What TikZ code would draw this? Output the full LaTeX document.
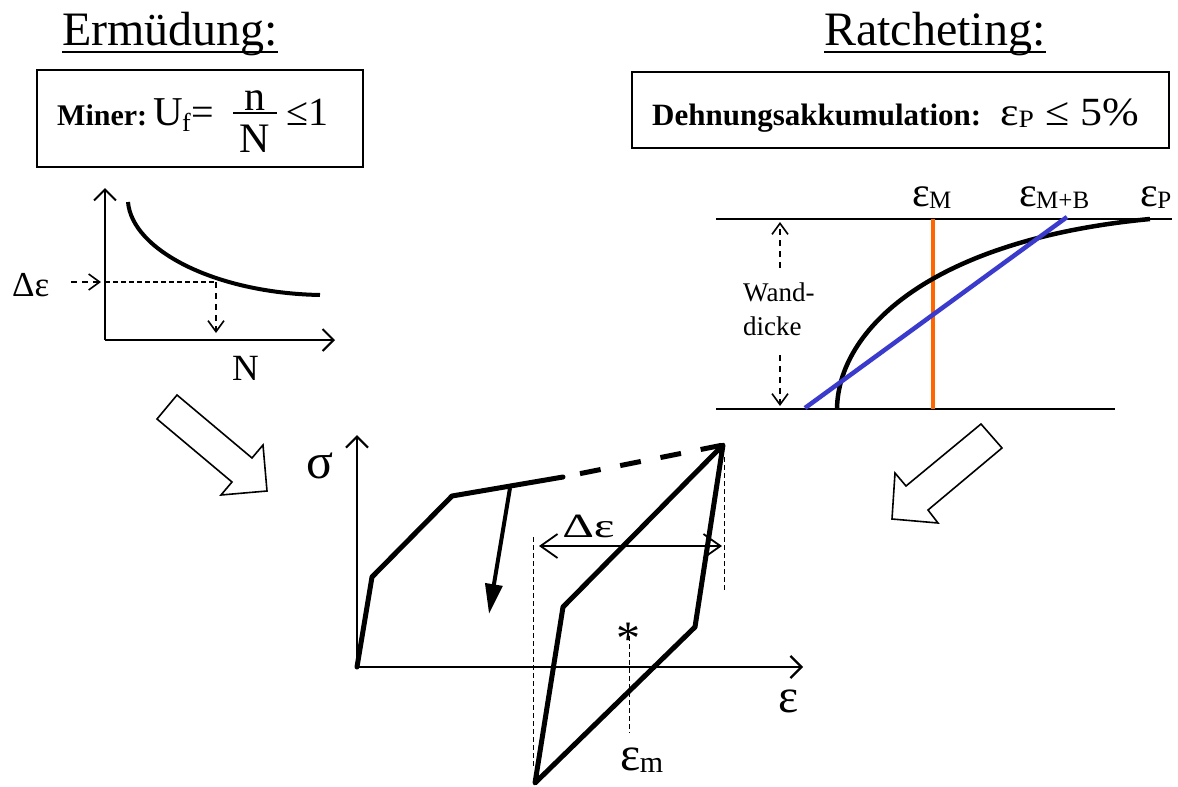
\documentclass[tikz,border=0pt]{standalone}
\usepackage{fontspec}
\setmainfont{Liberation Serif}
\usetikzlibrary{arrows.meta}
\definecolor{orng}{RGB}{255,102,0}
\definecolor{blu}{RGB}{58,58,204}
\newcommand{\fs}[1]{\fontsize{#1}{#1}\selectfont}
\begin{document}
\begin{tikzpicture}[x=1pt,y=-1pt,
  txt/.style={inner sep=0pt, anchor=base west},
  ctxt/.style={inner sep=0pt, anchor=base},
  axisline/.style={line width=2.2pt, -{Straight Barb[length=11pt,width=22pt]}},
  thinaxis/.style={line width=2pt, -{Straight Barb[length=11pt,width=22pt]}},
  dasharrow/.style={line width=1.6pt, dash pattern=on 6pt off 5pt, -{Straight Barb[length=11pt,width=16pt]}},
  thindash/.style={line width=0.9pt, dash pattern=on 5pt off 3pt},
  thick loop/.style={line width=5pt, line join=round, line cap=round},
  blockarrow/.style={draw, line width=1.6pt, fill=white, line join=miter},
  framebox/.style={draw, line width=1.6pt, inner sep=0pt}]
\useasboundingbox (0,0) rectangle (1178,787);

% ---------------- titles ----------------
\node[txt] (t1) at (62,45) {\fs{48}Ermüdung:};
\draw[line width=2.5pt] ([yshift=-7pt]t1.base west) -- ([yshift=-7pt]t1.base east);
\node[txt] (t2) at (824,45) {\fs{48}Ratcheting:};
\draw[line width=2.5pt] ([yshift=-7pt]t2.base west) -- ([yshift=-7pt]t2.base east);

% ---------------- Miner box ----------------
\node[framebox, minimum width=326pt, minimum height=97pt] (b1) at (200,118.5) {};
\node[txt] (mi) at (57,125) {\fs{30}\bfseries Miner:};
\node[txt] (mu) at (153,125) {\fs{41}U};
\node[txt] (mf) at (182,131) {\fs{26}f};
\node[txt] (meq) at (191,125) {\fs{40}=};
\node[ctxt] (fn) at (255,110) {\fs{42}n};
\node[ctxt] (fN) at (255,152) {\fs{42}N};
\draw[line width=2pt] (233,113) -- (277,113);
\node[txt] (mle) at (286,125) {\fs{40}≤1};

% ---------------- Ratcheting box ----------------
\node[framebox, minimum width=537pt, minimum height=76pt] (b2) at (900.5,110) {};
\node[txt] (dh) at (652,125) {\fs{31}\bfseries Dehnungsakkumulation:};
\node[txt, xscale=1.1] (dp) at (1000,125) {\fs{40}ε\raisebox{-2pt}{\fs{25}P} ≤ 5\%};

% ---------------- S-N diagram ----------------
\coordinate (sno) at (105,340);
\coordinate (sny) at (105,188);
\coordinate (snx) at (335,340);
\draw[thinaxis] (sno) -- (sny);
\draw[thinaxis] (sno) -- (snx);
\draw[line width=4pt] (128,202) .. controls (132,250) and (215,293) .. (320,295);
\coordinate (snp) at (216,282);
\coordinate (snq) at (216,333);
\draw[thindash, line width=1.4pt] (105,282) -- (snp);
\draw[dasharrow] (snp) -- (snq);
\node[txt] (de1) at (12,296) {\fs{35}Δε};
\coordinate (dea) at (71,282);
\coordinate (deb) at (101,282);
\draw[dasharrow] (dea) -- (deb);
\node[txt] (nN) at (232,380) {\fs{37}N};

% ---------------- block arrows ----------------
\draw[blockarrow] (177,395) -- (252,458) -- (263,445) -- (267,491) -- (221,495) -- (232,482) -- (157,419) -- cycle;
\draw[blockarrow] (981,424) -- (1002,448) -- (928,510) -- (938,523) -- (892,519) -- (895,473) -- (906,486) -- cycle;

% ---------------- wall diagram ----------------
\coordinate (wt1) at (716,219);
\coordinate (wt2) at (1172,219);
\coordinate (wb1) at (716,409);
\coordinate (wb2) at (1115,409);
\draw[line width=2pt] (wt1) -- (wt2);
\draw[line width=2pt] (wb1) -- (wb2);
\draw[orng, line width=4.5pt] (933,219) -- (933,409);
\draw[line width=4.5pt] (837,409) .. controls (838,330) and (930,240) .. (1150,219);
\draw[blu, line width=4.5pt] (805,408) -- (1067,217);
\node[txt] (em1) at (912,206) {\fs{42}ε};
\node[txt] (em2) at ([xshift=-1pt,yshift=-2pt]em1.base east) {\fs{25}M};
\node[txt] (emb1) at (1019,206) {\fs{42}ε};
\node[txt] (emb2) at ([xshift=-1pt,yshift=-2pt]emb1.base east) {\fs{25}M+B};
\node[txt] (ep1) at (1140,206) {\fs{42}ε};
\node[txt] (ep2) at ([xshift=-1pt,yshift=-2pt]ep1.base east) {\fs{25}P};
\node[txt] (wd1) at (743,301) {\fs{27}Wand-};
\node[txt] (wd2) at (743,335) {\fs{27}dicke};
\coordinate (wa1) at (780,268);
\coordinate (wa2) at (780,222);
\coordinate (wa3) at (780,355);
\coordinate (wa4) at (780,406);
\draw[dasharrow] (wa1) -- (wa2);
\draw[dasharrow] (wa3) -- (wa4);

% ---------------- hysteresis diagram ----------------
\coordinate (O) at (357,667);
\coordinate (sy) at (357,435);
\coordinate (sx) at (803,667);
\draw[axisline] (O) -- (sy);
\draw[axisline] (O) -- (sx);
\node[txt] (sig) at (306,478) {\fs{50}σ};
\node[txt] (eps) at (778,712) {\fs{48}ε};

\coordinate (h1) at (372,577);
\coordinate (h2) at (452,496);
\coordinate (h3) at (563,477);
\coordinate (h3b) at (580,473.6);
\coordinate (pk) at (723,445);
\coordinate (h4) at (695,627);
\coordinate (h5) at (535,783);
\coordinate (h6) at (563,607);
\draw[thick loop] (O) -- (h1) -- (h2) -- (h3);
\draw[line width=5pt, dash pattern=on 21pt off 20pt] (h3b) -- (pk);
\draw[thick loop] (pk) -- (h4) -- (h5) -- (h6) -- cycle;

% load drop arrow
\coordinate (da1) at (510,488);
\coordinate (da2) at (489,614);
\draw[line width=4pt, -{Triangle[length=30pt,width=17pt]}] (da1) -- (da2);

% delta epsilon dimension
\coordinate (dl) at (533,537);
\coordinate (dlb) at (533,767);
\coordinate (dr) at (724,457);
\coordinate (drb) at (724,590);
\draw[thindash] (dl) -- (dlb);
\draw[thindash] (dr) -- (drb);
\coordinate (dda) at (539,546);
\coordinate (ddb) at (722,546);
\draw[line width=1.8pt, {Straight Barb[length=17pt,width=24pt]}-{Straight Barb[length=17pt,width=24pt]}] (dda) -- (ddb);
\node[txt, xscale=1.45] (de2) at (562,537) {\fs{34}Δε};

% mean strain
\node[ctxt] (star) at (628,654) {\fs{48}*};
\coordinate (ma) at (629,636);
\coordinate (mb) at (629,733);
\draw[thindash] (ma) -- (mb);
\node[txt] (em) at (620,770) {\fs{48}ε};
\node[txt] (emm) at ([xshift=-1pt,yshift=-2pt]em.base east) {\fs{30}m};
\end{tikzpicture}
\end{document}
